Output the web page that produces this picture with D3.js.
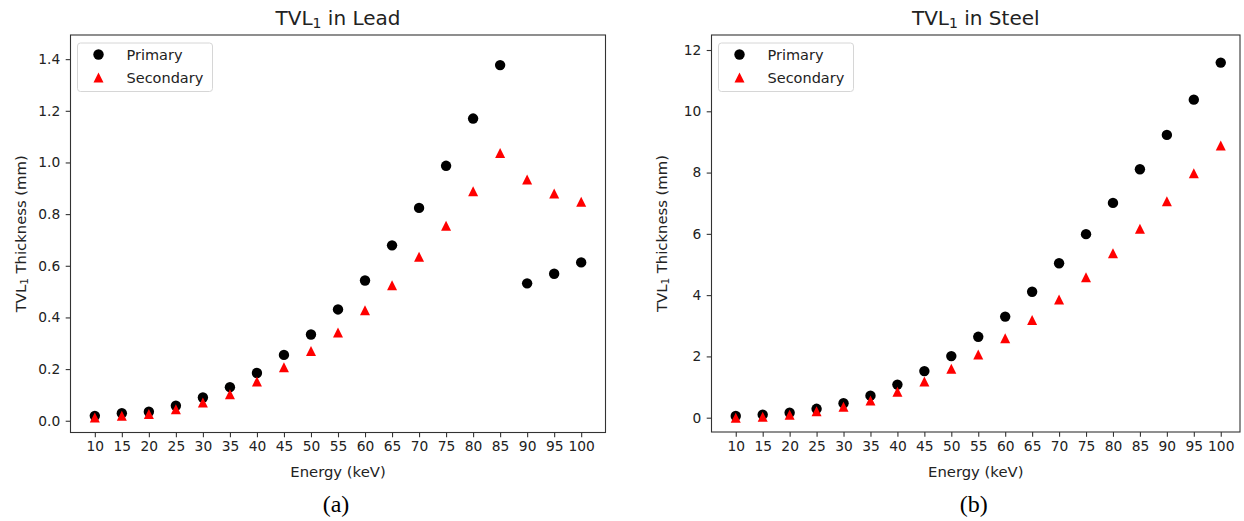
<!DOCTYPE html>
<html>
<head>
<meta charset="utf-8">
<script src="https://cdn.jsdelivr.net/npm/d3@7"></script>
<style>
  html, body { margin: 0; padding: 0; background: #fff; }
  svg { display: block; }
  .tick text { font-family: "DejaVu Sans", sans-serif; font-size: 13.8px; fill: #222; }
  .tick line { stroke: #333; stroke-width: 1.1; }
  .domain { display: none; }
</style>
</head>
<body>
<svg id="fig" width="1244" height="521"></svg>
<script>
// Photon energies (keV)
const energies = [10, 15, 20, 25, 30, 35, 40, 45, 50, 55, 60, 65, 70, 75, 80, 85, 90, 95, 100];

// First tenth-value layer in lead (mm)
const leadPrimary   = [0.019, 0.029, 0.035, 0.058, 0.090, 0.130, 0.185, 0.255, 0.334, 0.431, 0.543, 0.679, 0.824, 0.987, 1.170, 1.377, 0.532, 0.569, 0.613];
const leadSecondary = [0.013, 0.019, 0.026, 0.045, 0.071, 0.103, 0.152, 0.207, 0.270, 0.342, 0.428, 0.525, 0.635, 0.755, 0.889, 1.037, 0.934, 0.880, 0.848];

// First tenth-value layer in steel (mm)
const steelPrimary   = [0.055, 0.10, 0.16, 0.29, 0.47, 0.72, 1.08, 1.52, 2.01, 2.64, 3.30, 4.11, 5.04, 5.99, 7.01, 8.11, 9.23, 10.38, 11.59];
const steelSecondary = [0.00, 0.03, 0.10, 0.21, 0.36, 0.56, 0.85, 1.18, 1.60, 2.06, 2.59, 3.19, 3.86, 4.58, 5.37, 6.17, 7.06, 7.98, 8.88];

// Axis ticks
const leadTicks  = [0, 0.2, 0.4, 0.6, 0.8, 1.0, 1.2, 1.4];
const steelTicks = [0, 2, 4, 6, 8, 10, 12];

const seriesNames = ["Primary", "Secondary"];

const svg = d3.select("#fig");
const FONT = "DejaVu Sans, sans-serif";
const TEXT = "#222";

const triangle = (cx, cy, s) => {
  const h = s / 2;
  return `M${cx},${cy - h}L${cx + h},${cy + h}L${cx - h},${cy + h}Z`;
};

function panel(opt) {
  const { left, right, top, bottom, clipRight, yDomain, yTicks, yFormat,
          primary, secondary, title, tag } = opt;
  const x = d3.scaleLinear().domain([5.5, 104.5]).range([left, right]);
  const y = d3.scaleLinear().domain(yDomain).range([bottom, top]);
  const frameRight = clipRight || right;
  const g = svg.append("g");

  // x axis
  g.append("g")
    .attr("transform", `translate(0,${bottom})`)
    .call(d3.axisBottom(x).tickValues(energies).tickFormat(d3.format("d"))
      .tickSizeInner(4.8).tickSizeOuter(0).tickPadding(4.2));

  // y axis
  g.append("g")
    .attr("transform", `translate(${left},0)`)
    .call(d3.axisLeft(y).tickValues(yTicks).tickFormat(yFormat)
      .tickSizeInner(4.8).tickSizeOuter(0).tickPadding(5.5));

  // frame
  g.append("rect")
    .attr("x", left).attr("y", top)
    .attr("width", frameRight - left).attr("height", bottom - top)
    .attr("fill", "none").attr("stroke", "#333").attr("stroke-width", 1.1);

  // primary series
  g.append("g").selectAll("circle")
    .data(energies.map((e, i) => [e, primary[i]]))
    .join("circle")
    .attr("cx", d => x(d[0])).attr("cy", d => y(d[1]))
    .attr("r", 5.2).attr("fill", "#000");

  // secondary series
  g.append("g").selectAll("path")
    .data(energies.map((e, i) => [e, secondary[i]]))
    .join("path")
    .attr("d", d => triangle(x(d[0]), y(d[1]), 10))
    .attr("fill", "#ff0000");

  const cx = (left + frameRight) / 2;

  // title with subscript
  const t = g.append("text")
    .attr("x", cx).attr("y", 25)
    .attr("text-anchor", "middle")
    .attr("font-family", FONT).attr("font-size", 20).attr("fill", TEXT);
  t.append("tspan").text("TVL");
  t.append("tspan").attr("font-size", 14).attr("dy", 3).text("1");
  t.append("tspan").attr("dy", -3).text(" in " + title);

  // x label
  g.append("text")
    .attr("x", cx).attr("y", 476.5)
    .attr("text-anchor", "middle")
    .attr("font-family", FONT).attr("font-size", 14.8).attr("fill", TEXT)
    .text("Energy (keV)");

  // y label
  const yl = g.append("text")
    .attr("transform", `translate(${left - 45},${(top + bottom) / 2}) rotate(-90)`)
    .attr("text-anchor", "middle")
    .attr("font-family", FONT).attr("font-size", 14.8).attr("fill", TEXT);
  yl.append("tspan").text("TVL");
  yl.append("tspan").attr("font-size", 10.4).attr("dy", 2.5).text("1");
  yl.append("tspan").attr("dy", -2.5).text(" Thickness (mm)");

  // legend
  const lg = g.append("g").attr("transform", `translate(${left + 7},${top + 8})`);
  lg.append("rect")
    .attr("width", 135).attr("height", 48.5).attr("rx", 3)
    .attr("fill", "#fff").attr("fill-opacity", 0.8)
    .attr("stroke", "#d6d6d6").attr("stroke-width", 1);
  seriesNames.forEach((name, i) => {
    const ry = 11.5 + i * 23;
    if (i === 0) {
      lg.append("circle").attr("cx", 21).attr("cy", ry).attr("r", 5.2).attr("fill", "#000");
    } else {
      lg.append("path").attr("d", triangle(21, ry, 10)).attr("fill", "#ff0000");
    }
    lg.append("text")
      .attr("x", 49).attr("y", ry + 5.2)
      .attr("font-family", FONT).attr("font-size", 14.5).attr("fill", TEXT)
      .text(name);
  });

  // panel tag
  g.append("text")
    .attr("x", cx - 2).attr("y", 512)
    .attr("text-anchor", "middle")
    .attr("font-family", "Liberation Serif, Times New Roman, serif")
    .attr("font-size", 24).attr("fill", "#000")
    .text(tag);
}

panel({
  left: 70.5, right: 605.5, top: 35, bottom: 432.5,
  yDomain: [-0.0455, 1.4935], yTicks: leadTicks, yFormat: d3.format(".1f"),
  primary: leadPrimary, secondary: leadSecondary, title: "Lead", tag: "(a)"
});

panel({
  left: 711.5, right: 1245, clipRight: 1240, top: 35, bottom: 432,
  yDomain: [-0.467, 12.49], yTicks: steelTicks, yFormat: d3.format("d"),
  primary: steelPrimary, secondary: steelSecondary, title: "Steel", tag: "(b)"
});
</script>
</body>
</html>
